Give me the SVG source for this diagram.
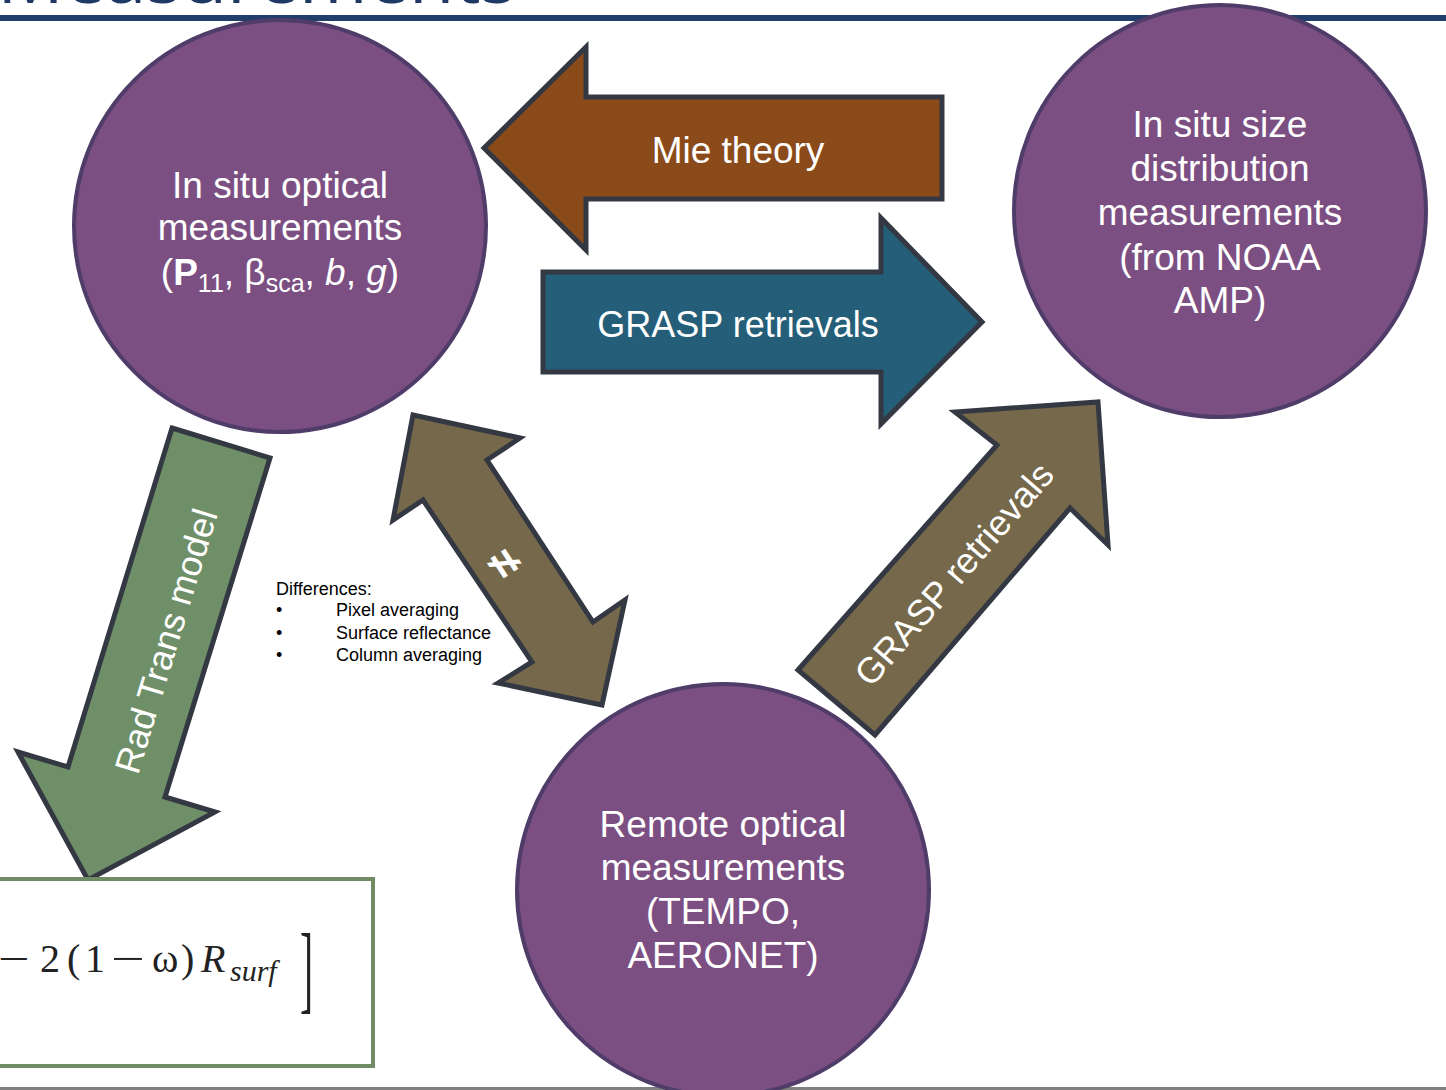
<svg xmlns="http://www.w3.org/2000/svg" width="1446" height="1090" viewBox="0 0 1446 1090">
<style>
.circ{fill:#7c4f83;stroke:#4f3c69;stroke-width:4}
.arr{stroke:#343843;stroke-width:5;stroke-linejoin:miter}
.lbl{font-family:"Liberation Sans",Arial,sans-serif;fill:#ffffff;font-size:37px;text-anchor:middle}
.diff{font-family:"Liberation Sans",Arial,sans-serif;fill:#000000;font-size:18px}
.eq{font-family:"Liberation Serif","Times New Roman",serif;fill:#222222;font-size:40px}
</style>
<rect x="0" y="0" width="1446" height="1090" fill="#ffffff"/>
<g id="title">
<text x="516" y="3" font-family="'Open Sans',sans-serif" font-size="74" fill="#1f3864" text-anchor="end">Measurements</text>
<rect x="0" y="15" width="1446" height="6" fill="#213f6b"/>
<rect x="0" y="1087" width="1446" height="3" fill="#808080"/>
</g>
<g id="connectors">
<g id="mie-arrow">
<polygon class="arr" fill="#8b4a19" points="484,148 586,47 586,97 942,97 942,199 586,199 586,250"/>
<text class="lbl" x="738" y="163">Mie theory</text>
</g>
<g id="grasp-arrow-top">
<polygon class="arr" fill="#245e78" points="543,272 881,272 881,218 982,322 881,424 881,372 543,372"/>
<text class="lbl" x="738" y="337" style="font-size:36px">GRASP retrievals</text>
</g>
<g id="radtrans-arrow">
<polygon class="arr" fill="#6f8f69" points="172,428 270,458 165,797 215,812 88,880 18,752 68,767"/>
<text class="lbl" transform="translate(166,641) rotate(-73)" dominant-baseline="central" style="font-size:36px">Rad Trans model</text>
</g>
<g id="difference-arrow">
<polygon class="arr" fill="#76694b" points="413,415 520,438 487,460 593,622 625,600 602,705 498,683 532,662 423,500 393,520"/>
<text class="lbl" transform="translate(505,563) rotate(57)" dominant-baseline="central" style="font-size:46px;font-weight:bold">≠</text>
</g>
<g id="grasp-arrow-diag">
<polygon class="arr" fill="#76694b" points="798,670 997,445 955,412 1098,402 1108,545 1070,508 875,735"/>
<text class="lbl" transform="translate(954,574) rotate(-49)" dominant-baseline="central" style="font-size:36px">GRASP retrievals</text>
</g>
</g>
<g id="node-insitu-optical">
<circle class="circ" cx="280" cy="226" r="206"/>
<text class="lbl" x="280" y="198">In situ optical</text>
<text class="lbl" x="280" y="240">measurements</text>
<text class="lbl" x="280" y="285">(<tspan font-weight="bold">P</tspan><tspan font-size="25" dy="7">11</tspan><tspan dy="-7">, β</tspan><tspan font-size="25" dy="7">sca</tspan><tspan dy="-7">, </tspan><tspan font-style="italic">b</tspan>, <tspan font-style="italic">g</tspan>)</text>
</g>
<g id="node-insitu-size">
<circle class="circ" cx="1220" cy="211" r="206"/>
<text class="lbl" x="1220" y="137">In situ size</text>
<text class="lbl" x="1220" y="181">distribution</text>
<text class="lbl" x="1220" y="225">measurements</text>
<text class="lbl" x="1220" y="270">(from NOAA</text>
<text class="lbl" x="1220" y="313">AMP)</text>
</g>
<g id="node-remote">
<circle class="circ" cx="723" cy="890" r="206"/>
<text class="lbl" x="723" y="837">Remote optical</text>
<text class="lbl" x="723" y="880">measurements</text>
<text class="lbl" x="723" y="924">(TEMPO,</text>
<text class="lbl" x="723" y="968">AERONET)</text>
</g>
<g id="differences">
<text class="diff" x="276" y="595">Differences:</text>
<text class="diff" x="276" y="616">•</text>
<text class="diff" x="336" y="616">Pixel averaging</text>
<text class="diff" x="276" y="639">•</text>
<text class="diff" x="336" y="639">Surface reflectance</text>
<text class="diff" x="276" y="661">•</text>
<text class="diff" x="336" y="661">Column averaging</text>
</g>
<g id="equation-box">
<rect x="-10" y="879" width="383" height="187" fill="#ffffff" stroke="#6f8c65" stroke-width="4"/>
<text class="eq" transform="translate(-2,972) scale(1.4,1)">−</text>
<text class="eq" transform="translate(111,972) scale(1.5,1)">−</text>
<text class="eq" y="972"><tspan x="40">2</tspan><tspan x="67">(</tspan><tspan x="85">1</tspan><tspan x="152">ω</tspan><tspan x="181">)</tspan><tspan x="201" font-style="italic">R</tspan><tspan x="230" y="981" font-size="30" font-style="italic">surf</tspan></text>
<text class="eq" transform="translate(300,1001) scale(0.4,1)" style="font-size:98px">]</text>
</g>
</svg>
